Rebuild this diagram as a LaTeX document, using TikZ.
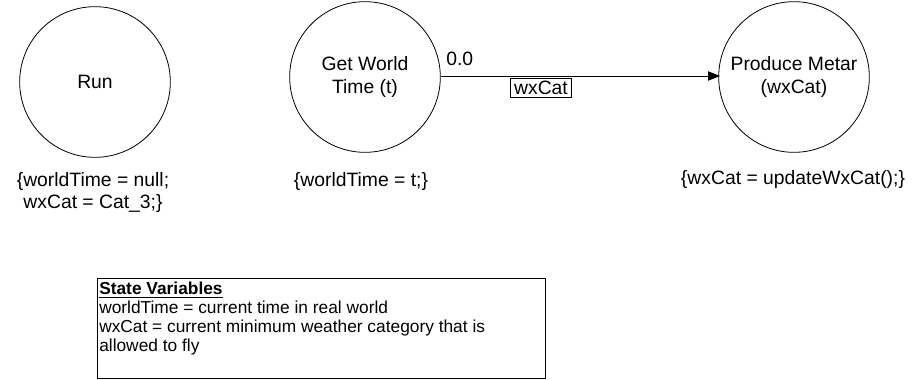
\documentclass[tikz,border=0pt]{standalone}
\usepackage{fontspec}
\setmainfont{Liberation Sans}
\usetikzlibrary{arrows.meta}
\begin{document}
\begin{tikzpicture}[x=0.75pt,y=-0.75pt,
  state/.style={draw, circle, line width=0.6pt, minimum size=113pt, inner sep=0pt, align=center, font=\fontsize{14.5}{17}\selectfont},
  note/.style={align=center, font=\fontsize{14.5}{17}\selectfont, inner sep=0pt},
  lbl/.style={font=\fontsize{14.5}{17}\selectfont, inner sep=1.5pt},
  tr/.style={-{Triangle[length=9pt,width=7pt]}, line width=0.6pt}]
\useasboundingbox (0,0) rectangle (922,379);
\node[state] (run) at (95,82) {Run};
\node[state] (gwt) at (365,77) {Get World\\Time (t)};
\node[state] (pm) at (794,77) {Produce Metar\\(wxCat)};
\node[note, anchor=north] (runN) at (93,172) {\{worldTime = null;\\ wxCat = Cat\_3;\}};
\node[note, anchor=north] (gwtN) at (361,172) {\{worldTime = t;\}};
\node[note, anchor=north] (pmN) at (793,170) {\{wxCat = updateWxCat();\}};
\coordinate (a1) at (441,76);
\coordinate (a2) at (720,76);
\draw[tr] (a1) -- (a2);
\node[lbl, anchor=south west] (del) at (444,68) {0.0};
\node[lbl, draw, line width=0.6pt, inner xsep=3pt, inner ysep=2pt, anchor=north] (cond) at (541,78) {wxCat};
\node[draw, line width=0.6pt, minimum width=336pt, minimum height=75pt, inner sep=0pt, anchor=north west] (svbox) at (97,278) {};
\node[anchor=north west, align=left, inner xsep=1.5pt, inner ysep=3pt, font=\fontsize{13}{14.2}\selectfont] (svtext) at (svbox.north west) {\underline{\textbf{State Variables}}\\worldTime = current time in real world\\wxCat = current minimum weather category that is\\allowed to fly};
\end{tikzpicture}
\end{document}
